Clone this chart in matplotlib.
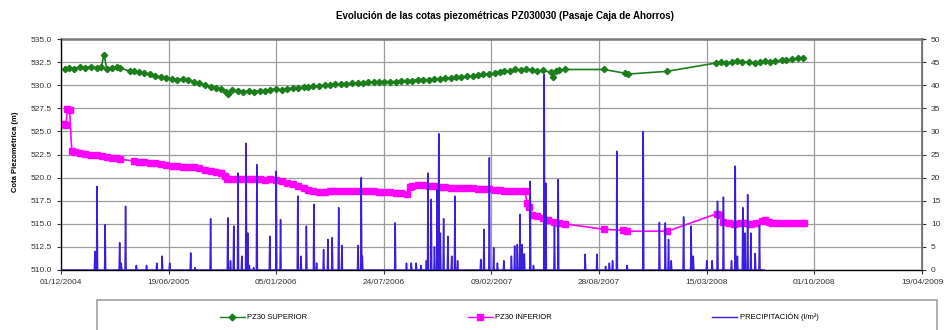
import numpy as np
import pandas as pd
import matplotlib
matplotlib.use('Agg')
import matplotlib.pyplot as plt
import matplotlib.dates as mdates
from matplotlib.lines import Line2D
from matplotlib.patches import Rectangle
from matplotlib.ticker import FormatStrFormatter, MultipleLocator

plt.rcParams['font.family'] = ['Liberation Sans', 'DejaVu Sans']

# --- PZ30 superior ---
fechas_sup = [
    '2004-12-08', '2004-12-15', '2004-12-25',
    '2005-01-05', '2005-01-15', '2005-01-25',
    '2005-02-05', '2005-02-14', '2005-02-19', '2005-02-24',
    '2005-03-05', '2005-03-15', '2005-03-20',
    '2005-04-08', '2005-04-15', '2005-04-25',
    '2005-05-05', '2005-05-15', '2005-05-25',
    '2005-06-05', '2005-06-15', '2005-06-25',
    '2005-07-05', '2005-07-15', '2005-07-25',
    '2005-08-05', '2005-08-15', '2005-08-25',
    '2005-09-05', '2005-09-15', '2005-09-25',
    '2005-10-03', '2005-10-08', '2005-10-15', '2005-10-25',
    '2005-11-05', '2005-11-15', '2005-11-25',
    '2005-12-05', '2005-12-15', '2005-12-25',
    '2006-01-05', '2006-01-15', '2006-01-25',
    '2006-02-05', '2006-02-15', '2006-02-25',
    '2006-03-05', '2006-03-15', '2006-03-25',
    '2006-04-05', '2006-04-15', '2006-04-25',
    '2006-05-05', '2006-05-15', '2006-05-25',
    '2006-06-05', '2006-06-15', '2006-06-25',
    '2006-07-05', '2006-07-15', '2006-07-25',
    '2006-08-05', '2006-08-15', '2006-08-25',
    '2006-09-05', '2006-09-15', '2006-09-25',
    '2006-10-05', '2006-10-15', '2006-10-25',
    '2006-11-05', '2006-11-15', '2006-11-25',
    '2006-12-05', '2006-12-15', '2006-12-25',
    '2007-01-05', '2007-01-15', '2007-01-25',
    '2007-02-05', '2007-02-15', '2007-02-25',
    '2007-03-05', '2007-03-15', '2007-03-25',
    '2007-04-05', '2007-04-15', '2007-04-25',
    '2007-05-05', '2007-05-15', '2007-05-30',
    '2007-06-03', '2007-06-08', '2007-06-15', '2007-06-25',
    '2007-09-06', '2007-10-15', '2007-10-20', '2008-01-01',
    '2008-04-01', '2008-04-10', '2008-04-20',
    '2008-05-01', '2008-05-10', '2008-05-20',
    '2008-06-01', '2008-06-12', '2008-06-22',
    '2008-07-01', '2008-07-10', '2008-07-20',
    '2008-08-01', '2008-08-10', '2008-08-20',
    '2008-09-01', '2008-09-10',
]
cota_sup = [
    531.8, 531.9, 531.8,
    532.0, 531.9, 532.0,
    531.9, 532.0, 533.3, 531.8,
    531.9, 532.0, 531.9,
    531.5, 531.5, 531.4,
    531.3, 531.2, 531.0,
    530.9, 530.8, 530.7,
    530.6, 530.7, 530.6,
    530.4, 530.2, 530.0,
    529.8, 529.7, 529.6,
    529.3, 529.0, 529.5, 529.4,
    529.3, 529.4, 529.3,
    529.4, 529.4, 529.5,
    529.6, 529.5, 529.6,
    529.7, 529.7, 529.8,
    529.8, 529.9, 529.9,
    530.0, 530.0, 530.1,
    530.1, 530.1, 530.2,
    530.2, 530.2, 530.3,
    530.3, 530.3, 530.4,
    530.4, 530.4, 530.5,
    530.5, 530.5, 530.6,
    530.6, 530.6, 530.7,
    530.7, 530.8, 530.8,
    530.9, 530.9, 531.0,
    531.0, 531.1, 531.2,
    531.2, 531.3, 531.4,
    531.5, 531.5, 531.7,
    531.6, 531.7, 531.6,
    531.5, 531.6, 531.4,
    530.9, 531.5, 531.6, 531.7,
    531.7, 531.3, 531.2, 531.5,
    532.4, 532.5, 532.4,
    532.5, 532.6, 532.5,
    532.5, 532.4, 532.5,
    532.6, 532.5, 532.6,
    532.7, 532.7, 532.8,
    532.9, 532.9,
]

# --- PZ30 inferior ---
fechas_inf = [
    '2004-12-06', '2004-12-10', '2004-12-13', '2004-12-17', '2004-12-21', '2004-12-27',
    '2005-01-05', '2005-01-15', '2005-01-25',
    '2005-02-05', '2005-02-15', '2005-02-25',
    '2005-03-05', '2005-03-15', '2005-03-20',
    '2005-04-15', '2005-04-25',
    '2005-05-05', '2005-05-15', '2005-05-25',
    '2005-06-05', '2005-06-15', '2005-06-25',
    '2005-07-05', '2005-07-15', '2005-07-25',
    '2005-08-05', '2005-08-15', '2005-08-25',
    '2005-09-05', '2005-09-15', '2005-09-25',
    '2005-10-01', '2005-10-05', '2005-10-15', '2005-10-25',
    '2005-11-05', '2005-11-15', '2005-11-25',
    '2005-12-05', '2005-12-15', '2005-12-25',
    '2006-01-05', '2006-01-15', '2006-01-25',
    '2006-02-05', '2006-02-15', '2006-02-25',
    '2006-03-05', '2006-03-15', '2006-03-25',
    '2006-04-05', '2006-04-15', '2006-04-25',
    '2006-05-05', '2006-05-15', '2006-05-25',
    '2006-06-05', '2006-06-15', '2006-06-25',
    '2006-07-05', '2006-07-15', '2006-07-25',
    '2006-08-05', '2006-08-15', '2006-08-25',
    '2006-09-05', '2006-09-10', '2006-09-15', '2006-09-25',
    '2006-10-05', '2006-10-15', '2006-10-25',
    '2006-11-05', '2006-11-15', '2006-11-25',
    '2006-12-05', '2006-12-15', '2006-12-25',
    '2007-01-05', '2007-01-15', '2007-01-25',
    '2007-02-05', '2007-02-15', '2007-02-25',
    '2007-03-05', '2007-03-15', '2007-03-25',
    '2007-04-05', '2007-04-12', '2007-04-16', '2007-04-20', '2007-04-25',
    '2007-05-05', '2007-05-15', '2007-05-25',
    '2007-06-05', '2007-06-15', '2007-06-25',
    '2007-09-06', '2007-10-12', '2007-10-18', '2008-01-02',
    '2008-04-03', '2008-04-08', '2008-04-14', '2008-04-25',
    '2008-05-05', '2008-05-15', '2008-05-25',
    '2008-06-05', '2008-06-15', '2008-06-25',
    '2008-07-01', '2008-07-08', '2008-07-15', '2008-07-25',
    '2008-08-05', '2008-08-15', '2008-08-25',
    '2008-09-05', '2008-09-12',
]
cota_inf = [
    525.8, 525.7, 527.4, 527.3, 522.9, 522.8,
    522.7, 522.6, 522.5,
    522.4, 522.3, 522.2,
    522.1, 522.1, 522.0,
    521.8, 521.7,
    521.7, 521.6, 521.6,
    521.5, 521.4, 521.3,
    521.3, 521.2, 521.2,
    521.1, 521.0, 520.8,
    520.7, 520.6, 520.5,
    520.2, 519.9, 519.8, 519.9,
    519.9, 519.8, 519.8,
    519.8, 519.7, 519.8,
    519.7, 519.6, 519.4,
    519.3, 519.1, 518.9,
    518.7, 518.5, 518.4,
    518.4, 518.5, 518.6,
    518.6, 518.6, 518.6,
    518.6, 518.5, 518.6,
    518.5, 518.4, 518.4,
    518.4, 518.3, 518.3,
    518.2, 519.0, 519.1, 519.2,
    519.2, 519.1, 519.1,
    519.0, 519.0, 518.9,
    518.9, 518.9, 518.9,
    518.9, 518.8, 518.8,
    518.8, 518.7, 518.7,
    518.6, 518.6, 518.6,
    518.6, 518.6, 517.3, 516.8, 515.9,
    515.8, 515.6, 515.4,
    515.2, 515.1, 515.0,
    514.4, 514.3, 514.2, 514.2,
    516.1, 516.0, 515.2, 515.1,
    515.0, 515.1, 515.1,
    515.0, 515.1, 515.3,
    515.4, 515.2, 515.1, 515.1,
    515.1, 515.1, 515.1,
    515.1, 515.1,
]

# --- Precipitación diaria (l/m2), días con lluvia ---
fechas_lluvia = [
    '2005-02-02', '2005-02-06', '2005-02-21', '2005-03-20', '2005-03-23', '2005-03-31',
    '2005-04-20', '2005-05-09', '2005-05-28', '2005-06-07', '2005-06-21', '2005-07-30',
    '2005-08-07', '2005-09-05', '2005-10-07', '2005-10-12', '2005-10-18', '2005-10-26',
    '2005-11-02', '2005-11-10', '2005-11-13', '2005-11-16', '2005-11-24', '2005-11-30',
    '2005-12-24', '2006-01-05', '2006-01-13', '2006-02-14', '2006-02-20', '2006-03-02',
    '2006-03-16', '2006-03-21', '2006-04-03', '2006-04-11', '2006-04-19', '2006-05-01',
    '2006-05-07', '2006-06-06', '2006-06-12', '2006-06-14', '2006-08-14', '2006-09-04',
    '2006-09-13', '2006-09-22', '2006-10-01', '2006-10-11', '2006-10-14', '2006-10-20',
    '2006-10-26', '2006-10-31', '2006-11-03', '2006-11-06', '2006-11-12', '2006-11-20',
    '2006-11-27', '2006-12-03', '2006-12-08', '2007-01-20', '2007-01-26', '2007-02-05',
    '2007-02-13', '2007-02-20', '2007-03-04', '2007-03-18', '2007-03-24', '2007-03-29',
    '2007-04-03', '2007-04-07', '2007-04-11', '2007-04-22', '2007-04-28', '2007-05-18',
    '2007-05-21', '2007-06-06', '2007-06-13', '2007-08-02', '2007-08-24', '2007-09-09',
    '2007-09-16', '2007-09-22', '2007-09-30', '2007-10-19', '2007-11-18', '2007-12-18',
    '2007-12-29', '2008-01-04', '2008-01-09', '2008-02-01', '2008-02-15', '2008-02-19',
    '2008-03-15', '2008-03-25', '2008-04-04', '2008-04-15', '2008-04-30', '2008-05-07',
    '2008-05-11', '2008-05-21', '2008-05-25', '2008-05-30', '2008-06-05', '2008-06-13',
    '2008-06-21',
]
lluvia = [
    4.0, 18.1, 9.8, 5.9, 1.5, 13.8,
    1.0, 1.0, 1.5, 3.0, 1.5, 3.7,
    0.5, 11.1, 11.3, 2.0, 9.5, 21.0,
    3.0, 27.4, 8.0, 1.0, 0.5, 22.8,
    7.3, 21.4, 10.9, 16.0, 3.0, 9.5,
    14.2, 1.5, 4.4, 6.6, 7.0, 13.5,
    5.3, 5.3, 20.0, 3.0, 10.2, 1.5,
    1.5, 1.5, 1.0, 2.0, 21.0, 15.3,
    5.0, 17.4, 29.5, 8.0, 11.1, 7.3,
    3.0, 16.0, 2.0, 2.3, 8.8, 24.3,
    4.8, 1.5, 2.0, 3.0, 5.2, 5.5,
    12.0, 5.5, 3.5, 19.2, 1.0, 42.3,
    18.8, 9.5, 19.6, 3.4, 3.4, 0.8,
    1.5, 2.0, 25.7, 1.0, 30.0, 10.3,
    10.2, 6.6, 2.0, 11.5, 9.5, 3.0,
    2.0, 2.0, 14.9, 15.8, 2.0, 22.5,
    3.0, 13.5, 8.0, 16.3, 8.0, 3.6,
    9.8,
]

titulo = 'Evolución de las cotas piezométricas PZ030030 (Pasaje Caja de Ahorros)'
etiquetas = ['PZ30 SUPERIOR', 'PZ30 INFERIOR', 'PRECIPITACIÓN (l/m²)']

verde = '#1b7d1b'
magenta = '#ff00ff'
azul = '#3b1fe0'
rejilla = '#9c9c9c'

# serie diaria de lluvia (días sin registro = 0)
dias = pd.date_range('2004-12-01', '2008-06-30', freq='D')
serie_lluvia = pd.Series(0.0, index=dias)
serie_lluvia[pd.to_datetime(fechas_lluvia)] = lluvia

fig = plt.figure(figsize=(9.44, 3.30), dpi=100)
W, H = 944, 330
ax = fig.add_axes([61 / W, 1 - 270 / H, (922 - 61) / W, (270 - 39) / H])

ax.plot(pd.to_datetime(fechas_inf), cota_inf, color=magenta, lw=1.2,
        marker='s', ms=4, mec=magenta, zorder=3)
ax.plot(pd.to_datetime(fechas_sup), cota_sup, color=verde, lw=1.2,
        marker='D', ms=3.2, mec=verde, zorder=3)

# eje de fechas cada 200 dias, como en la hoja de cálculo
ticks = pd.date_range('2004-12-01', periods=9, freq='200D')
ax.set_xlim(ticks[0], ticks[-1])
ax.set_xticks(ticks)
ax.xaxis.set_major_formatter(mdates.DateFormatter('%d/%m/%Y'))

ax.set_ylim(510, 535)
ax.yaxis.set_major_locator(MultipleLocator(2.5))
ax.yaxis.set_major_formatter(FormatStrFormatter('%.1f'))
ax.grid(True, color=rejilla, lw=0.9)
ax.set_axisbelow(True)
ax.tick_params(axis='both', labelsize=6, colors='#333333', length=3, width=0.8)

for lado in ['left', 'bottom']:
    ax.spines[lado].set_color('#555555')
    ax.spines[lado].set_linewidth(1.0)
ax.spines['top'].set_color('#7a7a7a')
ax.spines['top'].set_linewidth(1.8)

ax2 = ax.twinx()
ax2.plot(serie_lluvia.index, serie_lluvia.values, color=azul, lw=1.1, zorder=2)
ax2.set_ylim(0, 50)
ax2.yaxis.set_major_locator(MultipleLocator(5))
ax2.tick_params(axis='y', labelsize=6, colors='#333333', length=3, width=0.8)
ax2.spines['right'].set_color('#7a7a7a')
ax2.spines['right'].set_linewidth(1.3)
ax2.spines['top'].set_visible(False)

fig.text(505 / W, 1 - 16 / H, titulo, ha='center', va='center',
         fontsize=7, fontweight='bold')
fig.text(16 / W, 1 - 152 / H, 'Cota Piezométrica (m)', rotation=90,
         ha='center', va='center', fontsize=5.5, fontweight='bold')

# leyenda inferior con recuadro
handles = [
    Line2D([], [], color=verde, lw=1.0, marker='D', ms=3.4),
    Line2D([], [], color=magenta, lw=1.0, marker='s', ms=4),
    Line2D([], [], color=azul, lw=1.0),
]
fig.legend(handles, etiquetas, loc='center', bbox_to_anchor=(519 / W, 1 - 317 / H),
           ncol=3, frameon=False, fontsize=5.5, columnspacing=21,
           handlelength=3.3, handletextpad=0.3)
fig.patches.append(Rectangle((97 / W, -0.05), (937 - 97) / W, 0.05 + (330 - 300) / H,
                             transform=fig.transFigure, fill=False,
                             edgecolor='#a0a0a0', lw=1.2))

fig.savefig('out.png', dpi=100)
